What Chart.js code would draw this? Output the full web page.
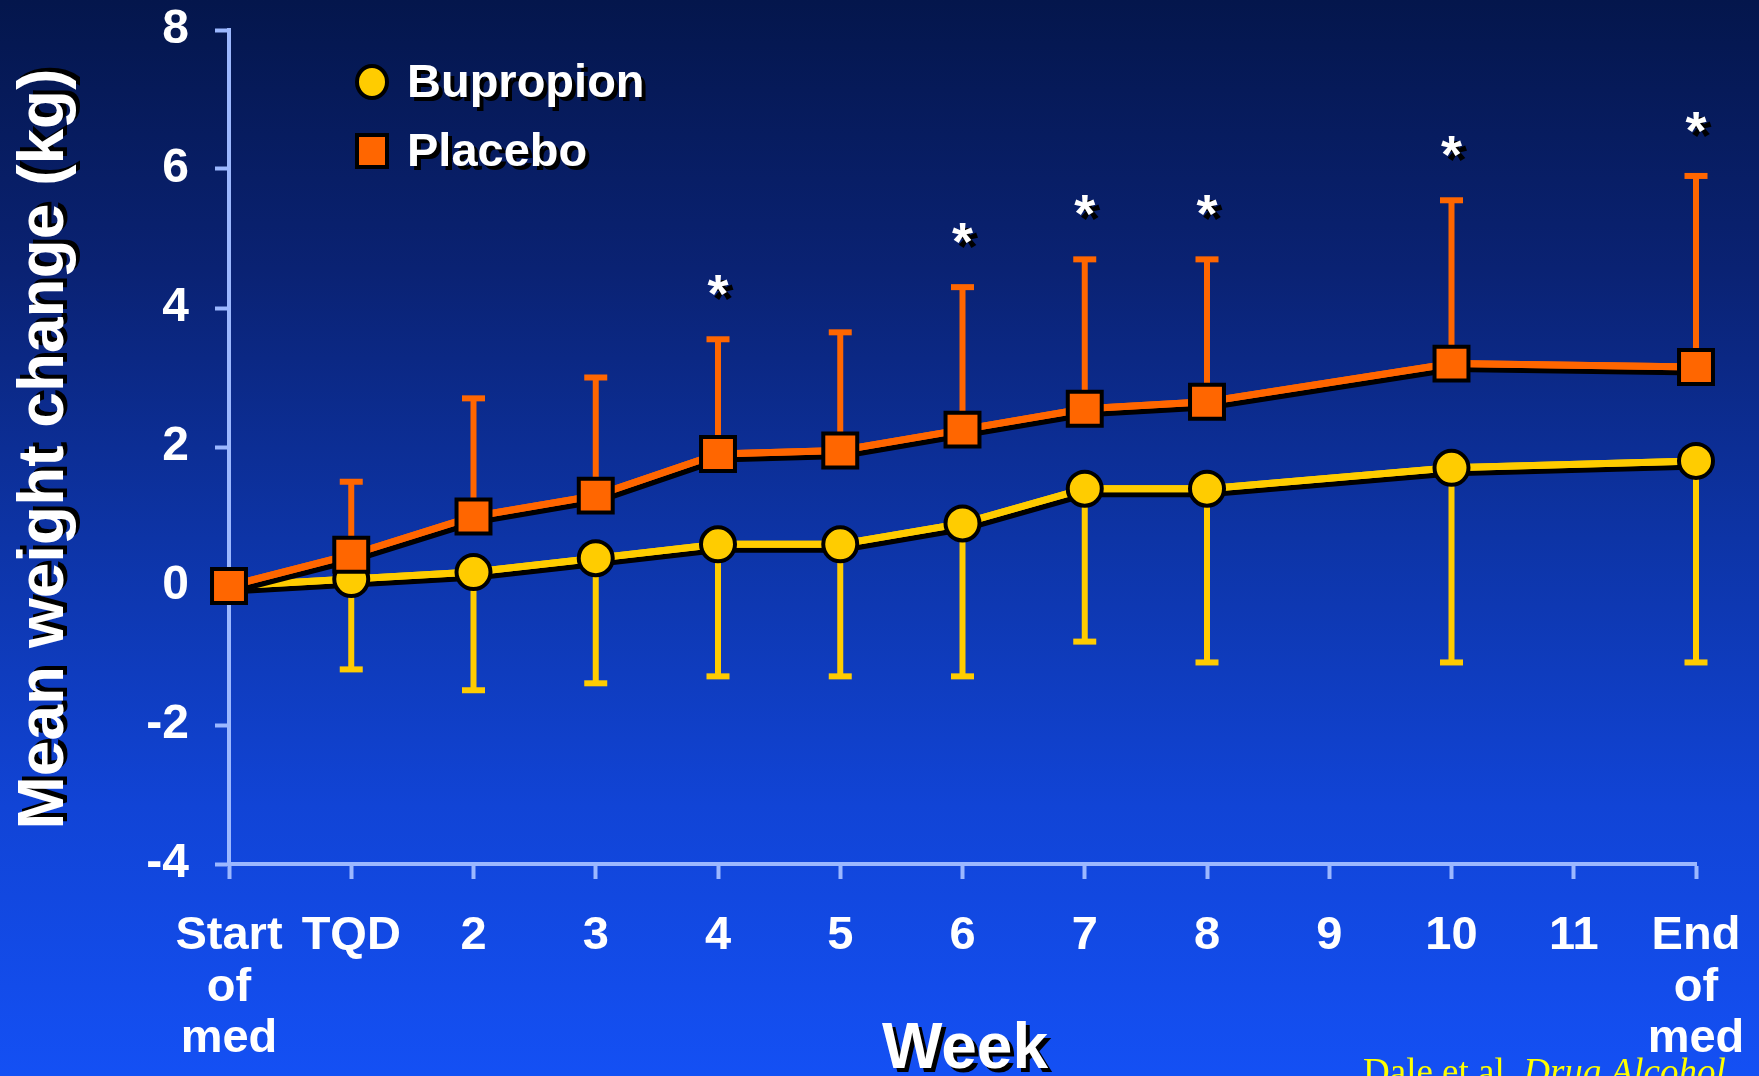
<!DOCTYPE html>
<html>
<head>
<meta charset="utf-8">
<title>Mean weight change (kg)</title>
<script src="https://cdn.jsdelivr.net/npm/chart.js@4.4.1/dist/chart.umd.min.js"></script>
<style>
  html, body { margin: 0; padding: 0; overflow: hidden; background: #0b2a8c; }
  #wrap { position: relative; width: 1759px; height: 1076px; }
</style>
</head>
<body>
<div id="wrap"><canvas id="chart"></canvas></div>
<script>
// Week axis categories
const weekLabels = [['Start', 'of', 'med'], 'TQD', '2', '3', '4', '5', '6', '7', '8', '9', '10', '11', ['End', 'of', 'med']];

// Mean weight change (kg) per visit; weeks 9 and 11 were not measured
const bupropionMean = [0, 0.1, 0.2, 0.4, 0.6, 0.6, 0.9, 1.4, 1.4, null, 1.7, null, 1.8];
const placeboMean   = [0, 0.45, 1.0, 1.3, 1.9, 1.95, 2.25, 2.55, 2.65, null, 3.2, null, 3.15];

// One-sided error bars: bupropion drawn downward, placebo upward
const bupropionErrLow = [null, -1.2, -1.5, -1.4, -1.3, -1.3, -1.3, -0.8, -1.1, null, -1.1, null, -1.1];
const placeboErrHigh  = [null, 1.5, 2.7, 3.0, 3.55, 3.65, 4.3, 4.7, 4.7, null, 5.55, null, 5.9];

// Visits with a significant between-group difference
const significant = [false, false, false, false, true, false, true, true, true, false, true, false, true];

// Value axis range
const yMin = -4;
const yMax = 8;
const yStep = 2;

const YELLOW = '#ffcc00';
const ORANGE = '#ff6600';
const AXIS = '#9cb8ff';
const SANS = '"Liberation Sans", Arial, sans-serif';
const SERIF = '"Liberation Serif", "Times New Roman", serif';

// Slide background: navy at the top fading to bright blue
const backgroundPlugin = {
  id: 'slideBackground',
  beforeDraw(chart) {
    const { ctx, width, height } = chart;
    const g = ctx.createLinearGradient(0, 0, 0, height);
    g.addColorStop(0, '#04164c');
    g.addColorStop(0.25, '#0a2273');
    g.addColorStop(0.5, '#0d34a6');
    g.addColorStop(0.75, '#1144d6');
    g.addColorStop(1, '#1450f4');
    ctx.save();
    ctx.fillStyle = g;
    ctx.fillRect(0, 0, width, height);
    ctx.restore();
  }
};

// Error bars with flat caps, drawn underneath the lines
const errorBarPlugin = {
  id: 'errorBars',
  beforeDatasetsDraw(chart) {
    const { ctx, scales: { x, y } } = chart;
    const sets = [
      { mean: bupropionMean, err: bupropionErrLow, color: YELLOW },
      { mean: placeboMean, err: placeboErrHigh, color: ORANGE }
    ];
    ctx.save();
    sets.forEach(s => {
      ctx.strokeStyle = s.color;
      ctx.fillStyle = s.color;
      s.err.forEach((v, i) => {
        if (v === null || s.mean[i] === null) return;
        const px = x.getPixelForValue(i);
        const y0 = y.getPixelForValue(s.mean[i]);
        const y1 = y.getPixelForValue(v);
        ctx.lineWidth = 6;
        ctx.beginPath();
        ctx.moveTo(px, y0);
        ctx.lineTo(px, y1);
        ctx.stroke();
        ctx.fillRect(px - 11.5, y1 - 3, 23, 6);
      });
    });
    ctx.restore();
  }
};

// Black drop shadow under each series line
const lineShadowPlugin = {
  id: 'lineShadow',
  beforeDatasetDraw(chart, args) {
    const meta = args.meta;
    if (!meta.dataset) return;
    const ctx = chart.ctx;
    ctx.save();
    ctx.shadowColor = '#000000';
    ctx.shadowOffsetX = 2;
    ctx.shadowOffsetY = 5;
    ctx.shadowBlur = 0;
    meta.dataset.draw(ctx, chart.chartArea);
    ctx.restore();
  }
};

function shadowText(ctx, text, x, y, dx, dy) {
  ctx.fillStyle = '#000000';
  ctx.fillText(text, x + dx, y + dy);
  ctx.fillStyle = '#ffffff';
  ctx.fillText(text, x, y);
}

// Significance stars, axis titles, legend and citation
const annotationPlugin = {
  id: 'annotations',
  afterDraw(chart) {
    const { ctx, scales: { x, y } } = chart;
    ctx.save();

    // stars above the placebo error bars
    ctx.font = 'bold 54px ' + SANS;
    ctx.textAlign = 'center';
    ctx.textBaseline = 'middle';
    significant.forEach((sig, i) => {
      if (!sig) return;
      const px = x.getPixelForValue(i);
      const py = y.getPixelForValue(placeboErrHigh[i]) - 42;
      shadowText(ctx, '*', px, py, 5, 5);
    });

    // value axis title
    ctx.save();
    ctx.translate(45, 449);
    ctx.rotate(-Math.PI / 2);
    ctx.font = 'bold 64px ' + SANS;
    ctx.textAlign = 'center';
    ctx.textBaseline = 'middle';
    shadowText(ctx, 'Mean weight change (kg)', 0, 0, 4, 4);
    ctx.restore();

    // week axis title
    ctx.font = 'bold 64px ' + SANS;
    ctx.textAlign = 'center';
    ctx.textBaseline = 'alphabetic';
    shadowText(ctx, 'Week', 965, 1068, 4, 4);

    // legend
    const legend = [
      { label: 'Bupropion', color: YELLOW, shape: 'circle', cy: 82 },
      { label: 'Placebo', color: ORANGE, shape: 'square', cy: 151 }
    ];
    legend.forEach(item => {
      ctx.fillStyle = item.color;
      ctx.strokeStyle = '#000000';
      ctx.lineWidth = 4;
      ctx.beginPath();
      if (item.shape === 'circle') {
        ctx.ellipse(372, item.cy, 15, 16, 0, 0, Math.PI * 2);
      } else {
        ctx.rect(372 - 15, item.cy - 16, 30, 32);
      }
      ctx.fill();
      ctx.stroke();
      ctx.font = 'bold 47px ' + SANS;
      ctx.textAlign = 'left';
      ctx.textBaseline = 'middle';
      shadowText(ctx, item.label, 407, item.cy + 2, 4, 4);
    });

    // source
    ctx.fillStyle = '#ffff00';
    ctx.textBaseline = 'alphabetic';
    ctx.textAlign = 'left';
    ctx.font = '37px ' + SERIF;
    const lead = 'Dale et al. ';
    ctx.fillText(lead, 1363, 1084);
    const w = ctx.measureText(lead).width;
    ctx.font = 'italic 37px ' + SERIF;
    ctx.fillText('Drug Alcohol', 1363 + w, 1084);

    ctx.restore();
  }
};

const ctx = document.getElementById('chart').getContext('2d');
new Chart(ctx, {
  type: 'line',
  data: {
    labels: weekLabels,
    datasets: [
      {
        label: 'Placebo',
        data: placeboMean,
        order: 0,
        borderColor: ORANGE,
        borderWidth: 7,
        backgroundColor: ORANGE,
        pointStyle: 'rect',
        pointRadius: 24,
        pointHoverRadius: 24,
        pointBorderColor: '#000000',
        pointBorderWidth: 4,
        pointBackgroundColor: ORANGE,
        spanGaps: true,
        tension: 0
      },
      {
        label: 'Bupropion',
        data: bupropionMean,
        order: 1,
        borderColor: YELLOW,
        borderWidth: 7,
        backgroundColor: YELLOW,
        pointStyle: 'circle',
        pointRadius: 17,
        pointHoverRadius: 17,
        pointBorderColor: '#000000',
        pointBorderWidth: 4,
        pointBackgroundColor: YELLOW,
        spanGaps: true,
        tension: 0
      }
    ]
  },
  options: {
    responsive: true,
    maintainAspectRatio: false,
    animation: false,
    events: [],
    layout: { padding: { top: 30, right: 63, left: 0, bottom: 0 } },
    plugins: {
      legend: { display: false },
      tooltip: { enabled: false },
      title: { display: false }
    },
    scales: {
      x: {
        type: 'category',
        offset: false,
        grid: {
          display: true,
          drawOnChartArea: false,
          drawTicks: true,
          tickLength: 15,
          tickWidth: 4,
          tickColor: AXIS
        },
        border: { display: true, color: AXIS, width: 4 },
        ticks: {
          color: '#ffffff',
          font: { family: SANS, size: 47, weight: 'bold', lineHeight: 1.1 },
          padding: 31,
          maxRotation: 0,
          autoSkip: false
        },
        afterFit(scale) {
          scale.height = 212;
          scale.paddingLeft = 0;
          scale.paddingRight = 0;
        }
      },
      y: {
        min: yMin,
        max: yMax,
        grid: {
          display: true,
          drawOnChartArea: false,
          drawTicks: true,
          tickLength: 14,
          tickWidth: 4,
          tickColor: AXIS
        },
        border: { display: true, color: AXIS, width: 4 },
        ticks: {
          stepSize: yStep,
          color: '#ffffff',
          font: { family: SANS, size: 48, weight: 'bold' },
          padding: 26
        },
        afterFit(scale) {
          scale.width = 229;
          scale.paddingTop = 0;
          scale.paddingBottom = 0;
        }
      }
    }
  },
  plugins: [backgroundPlugin, errorBarPlugin, lineShadowPlugin, annotationPlugin]
});
</script>
</body>
</html>
